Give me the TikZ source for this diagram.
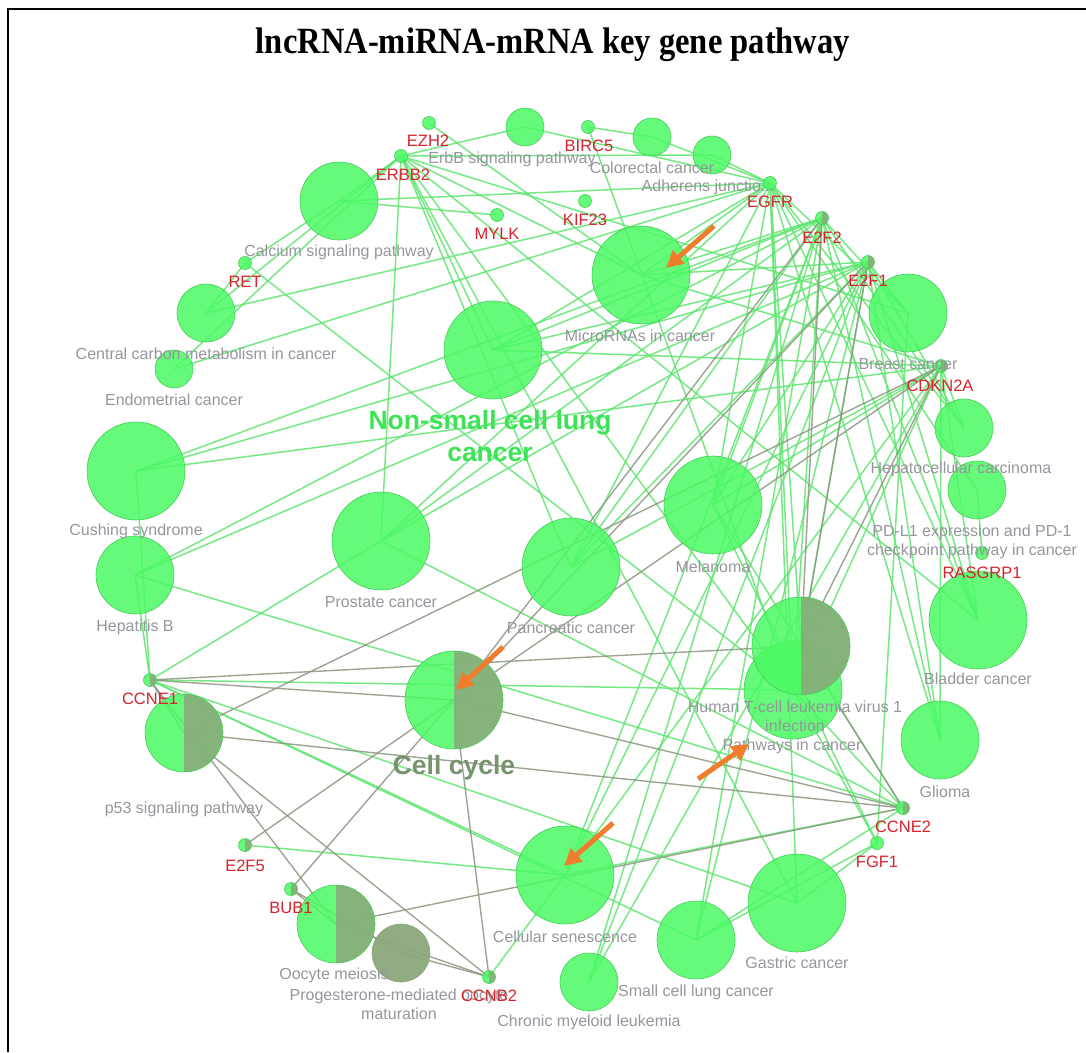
\documentclass[tikz,border=0pt]{standalone}
\usepackage{fontspec}
\setmainfont{Liberation Serif}
\newfontfamily\lab{Liberation Sans}
\usetikzlibrary{arrows.meta}
\definecolor{gfill}{RGB}{76,250,100}
\definecolor{gbord}{RGB}{70,205,90}
\definecolor{ghalf}{RGB}{140,168,125}
\definecolor{gedge}{RGB}{95,230,112}
\definecolor{eedge}{RGB}{140,150,128}
\definecolor{labgray}{RGB}{150,150,158}
\definecolor{labred}{RGB}{215,35,45}
\definecolor{bigg}{RGB}{60,228,85}
\definecolor{bigcc}{RGB}{120,148,108}
\definecolor{arr}{RGB}{240,125,45}
\tikzset{
  pnode/.style={circle,draw=gbord,line width=0.6pt,fill=gfill,fill opacity=0.86,minimum size=#1,inner sep=0pt},
  hnode/.style={pnode=#1,path picture={\fill[ghalf] (path picture bounding box.north) rectangle (path picture bounding box.south east);}},
  grnode/.style={circle,draw=ghalf,line width=0.6pt,fill=ghalf,fill opacity=0.95,minimum size=#1,inner sep=0pt},
  gnode/.style={pnode=13},
  ghnode/.style={hnode=13},
  gedgeline/.style={draw=gedge,line width=1.5pt,opacity=0.85},
  eedgeline/.style={draw=eedge,line width=1.4pt,opacity=0.85},
  plab/.style={text=labgray,font=\lab\fontsize{16}{19}\selectfont,inner sep=0pt,align=center},
  glab/.style={text=labred,font=\lab\fontsize{16.5}{18}\selectfont,inner sep=0pt},
  biglab/.style={font=\lab\bfseries\fontsize{26.5}{32}\selectfont,inner sep=0pt,align=center},
  orarrow/.style={draw=arr,line width=5pt,-{Triangle[length=17pt,width=17pt]}}
}
\begin{document}
\begin{tikzpicture}[x=1pt,y=-1pt]
\useasboundingbox (0,0) rectangle (1086,1052);
\fill[white] (0,0) rectangle (1086,1052);
% gene positions
\path
 (429,123) coordinate (ezh2)
 (401,156) coordinate (erbb2)
 (588,127) coordinate (birc5)
 (585,201) coordinate (kif23)
 (497,215) coordinate (mylk)
 (245,263) coordinate (ret)
 (770,183) coordinate (egfr)
 (822,218) coordinate (etwo)
 (868,262) coordinate (eone)
 (941,366) coordinate (cdkn)
 (982,553) coordinate (ras)
 (150,680) coordinate (ccne1)
 (245,845) coordinate (efive)
 (291,889) coordinate (bub1)
 (489,977) coordinate (ccnb2)
 (903,808) coordinate (ccne2)
 (877,843) coordinate (fgf1);
% pathway positions
\path
 (525,127) coordinate (erbb)
 (652,137) coordinate (colo)
 (712,155) coordinate (adh)
 (339,201) coordinate (calc)
 (641,275) coordinate (mir)
 (206,313) coordinate (ccm)
 (174,369) coordinate (endo)
 (493,350) coordinate (nsclc)
 (908,313) coordinate (breast)
 (964,428) coordinate (hcc)
 (977,490) coordinate (pdl1)
 (136,471) coordinate (cush)
 (135,575) coordinate (hepb)
 (381,541) coordinate (pros)
 (571,567) coordinate (panc)
 (713,505) coordinate (mel)
 (978,620) coordinate (blad)
 (793,690) coordinate (pic)
 (801,646) coordinate (htlv)
 (940,740) coordinate (gli)
 (454,700) coordinate (cc)
 (184,733) coordinate (p53)
 (565,875) coordinate (sen)
 (336,924) coordinate (oo)
 (401,953) coordinate (prog)
 (589,982) coordinate (cml)
 (696,940) coordinate (sclc)
 (797,903) coordinate (gas);
% ---- edges
\foreach \g/\ts in {
  erbb2/{erbb,adh,calc,ccm,endo,mir,nsclc,breast,pros,panc,blad,pic,gas},
  egfr/{erbb,colo,adh,calc,ccm,endo,mir,nsclc,breast,hcc,pdl1,pros,panc,mel,blad,htlv,pic,gli,gas},
  etwo/{sen,pic,hepb,cush,nsclc,pros,panc,mel,blad,gli,sclc,cml,breast,hcc,mir},
  eone/{sen,pic,hepb,cush,nsclc,pros,panc,mel,blad,gli,sclc,cml,breast,hcc,mir},
  cdkn/{sen,mir,nsclc,hcc,panc,mel,blad,gli,pic,cml,cush},
  ccne1/{sen,pic,pros,sclc,hepb,cush,gas},
  ccne2/{sen,pic,pros,sclc,hepb,mel},
  ccnb2/{sen},
  efive/{sen},
  fgf1/{pic,mel,gas,breast,sclc},
  ras/{pdl1},
  ret/{ccm,pic,calc},
  mylk/{calc},
  birc5/{colo,pic},
  ezh2/{mir}}{
  \foreach \t in \ts {\draw[gedgeline] (\g) -- (\t);}
}
\foreach \g/\ts in {
  etwo/{cc,htlv},
  eone/{cc,htlv},
  cdkn/{cc,p53,htlv},
  ccne1/{cc,p53,oo,htlv},
  ccne2/{cc,p53,oo,htlv},
  ccnb2/{cc,p53,oo,prog},
  bub1/{cc,oo,prog},
  efive/{cc}}{
  \foreach \t in \ts {\draw[eedgeline] (\g) -- (\t);}
}
% ---- pathway circles
\node[pnode=38] (n-erbb) at (erbb) {};
\node[pnode=38] (n-colo) at (colo) {};
\node[pnode=38] (n-adh) at (adh) {};
\node[pnode=78] (n-calc) at (calc) {};
\node[pnode=98] (n-mir) at (mir) {};
\node[pnode=58] (n-ccm) at (ccm) {};
\node[pnode=38] (n-endo) at (endo) {};
\node[pnode=98] (n-nsclc) at (nsclc) {};
\node[pnode=78] (n-breast) at (breast) {};
\node[pnode=58] (n-hcc) at (hcc) {};
\node[pnode=58] (n-pdl1) at (pdl1) {};
\node[pnode=98] (n-cush) at (cush) {};
\node[pnode=78] (n-hepb) at (hepb) {};
\node[pnode=98] (n-pros) at (pros) {};
\node[pnode=98] (n-panc) at (panc) {};
\node[pnode=98] (n-mel) at (mel) {};
\node[pnode=98] (n-blad) at (blad) {};
\node[pnode=98] (n-pic) at (pic) {};
\node[hnode=98] (n-htlv) at (htlv) {};
\node[pnode=78] (n-gli) at (gli) {};
\node[hnode=98] (n-cc) at (cc) {};
\node[hnode=78] (n-p53) at (p53) {};
\node[pnode=98] (n-sen) at (sen) {};
\node[hnode=78] (n-oo) at (oo) {};
\node[grnode=58] (n-prog) at (prog) {};
\node[pnode=58] (n-cml) at (cml) {};
\node[pnode=78] (n-sclc) at (sclc) {};
\node[pnode=98] (n-gas) at (gas) {};
% ---- gene nodes
\foreach \g in {ezh2,erbb2,birc5,kif23,mylk,ret,egfr,ras,fgf1}{\node[gnode] (n-\g) at (\g) {};}
\foreach \g in {etwo,eone,cdkn,ccne1,efive,bub1,ccnb2,ccne2}{\node[ghnode] (n-\g) at (\g) {};}
% ---- pathway labels
\node[plab] (l-erbb) at (512,159) {ErbB signaling pathway};
\node[plab] (l-colo) at (652,168) {Colorectal cancer};
\node[plab] (l-adh) at (708,187) {Adherens junctio...};
\node[plab] (l-calc) at (339,252) {Calcium signaling pathway};
\node[plab] (l-ccm) at (206,354) {Central carbon metabolism in cancer};
\node[plab] (l-endo) at (174,400) {Endometrial cancer};
\node[plab] (l-mir) at (640,336) {MicroRNAs in cancer};
\node[plab] (l-breast) at (908,364) {Breast cancer};
\node[plab] (l-hcc) at (961,469) {Hepatocellular carcinoma};
\node[plab] (l-pdl1) at (972,542) {PD-L1 expression and PD-1\\checkpoint pathway in cancer};
\node[plab] (l-cush) at (136,531) {Cushing syndrome};
\node[plab] (l-hepb) at (135,627) {Hepatitis B};
\node[plab] (l-pros) at (381,602) {Prostate cancer};
\node[plab] (l-panc) at (571,628) {Pancreatic cancer};
\node[plab] (l-mel) at (713,567) {Melanoma};
\node[plab] (l-blad) at (978,679) {Bladder cancer};
\node[plab] (l-htlv) at (795,716) {Human T-cell leukemia virus 1\\infection};
\node[plab] (l-pic) at (792,746) {Pathways in cancer};
\node[plab] (l-gli) at (945,792) {Glioma};
\node[plab] (l-p53) at (184,809) {p53 signaling pathway};
\node[plab] (l-sen) at (565,937) {Cellular senescence};
\node[plab] (l-oo) at (334,975) {Oocyte meiosis};
\node[plab] (l-prog) at (399,1004) {Progesterone-mediated oocyte\\maturation};
\node[plab] (l-cml) at (589,1022) {Chronic myeloid leukemia};
\node[plab] (l-sclc) at (696,992) {Small cell lung cancer};
\node[plab] (l-gas) at (797,963) {Gastric cancer};
\node[biglab,text=bigg] (l-nsclc) at (490,436) {Non-small cell lung\\cancer};
\node[biglab,text=bigcc] (l-cc) at (454,768) {Cell cycle};
% ---- gene labels
\node[glab] (l-ezh2) at (428,141) {EZH2};
\node[glab] (l-erbb2) at (403,175) {ERBB2};
\node[glab] (l-birc5) at (589,146) {BIRC5};
\node[glab] (l-kif23) at (585,220) {KIF23};
\node[glab] (l-mylk) at (497,234) {MYLK};
\node[glab] (l-ret) at (245,282) {RET};
\node[glab] (l-egfr) at (770,202) {EGFR};
\node[glab] (l-etwo) at (822,238) {E2F2};
\node[glab] (l-eone) at (868,281) {E2F1};
\node[glab] (l-cdkn) at (940,386) {CDKN2A};
\node[glab] (l-ras) at (982,573) {RASGRP1};
\node[glab] (l-ccne1) at (150,699) {CCNE1};
\node[glab] (l-efive) at (245,866) {E2F5};
\node[glab] (l-bub1) at (291,908) {BUB1};
\node[glab] (l-ccnb2) at (489,996) {CCNB2};
\node[glab] (l-ccne2) at (903,827) {CCNE2};
\node[glab] (l-fgf1) at (877,862) {FGF1};
% ---- orange arrows
\coordinate (a1s) at (714,226); \coordinate (a1e) at (666,268);
\coordinate (a2s) at (503,647); \coordinate (a2e) at (456,690);
\coordinate (a3s) at (698,779); \coordinate (a3e) at (749,744);
\coordinate (a4s) at (613,823); \coordinate (a4e) at (564,866);
\draw[orarrow] (a1s) -- (a1e);
\draw[orarrow] (a2s) -- (a2e);
\draw[orarrow] (a3s) -- (a3e);
\draw[orarrow] (a4s) -- (a4e);
% ---- frame and title
\draw[line width=2pt] (8,1052) -- (8,9) -- (1086,9);
\node[inner sep=0pt] (title) at (553,45) {\scalebox{0.88}[1]{\fontsize{37}{40}\selectfont\bfseries lncRNA-miRNA-mRNA key gene pathway}};
\end{tikzpicture}
\end{document}
